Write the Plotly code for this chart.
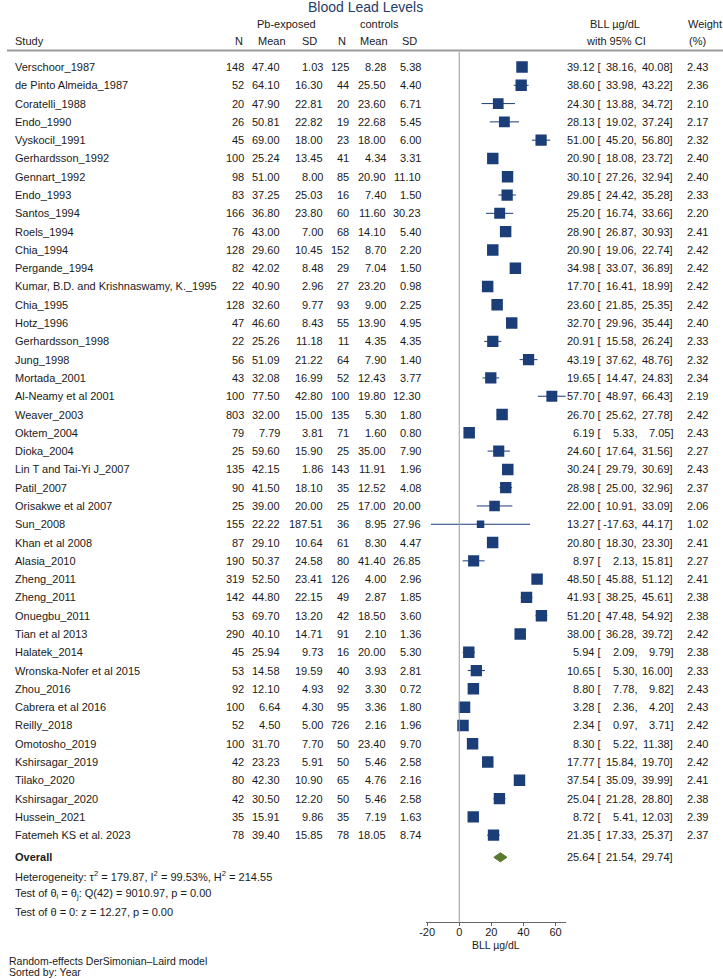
import plotly.graph_objects as go

studies = ["Verschoor_1987", "de Pinto Almeida_1987", "Coratelli_1988", "Endo_1990", "Vyskocil_1991",
           "Gerhardsson_1992", "Gennart_1992", "Endo_1993", "Santos_1994", "Roels_1994", "Chia_1994",
           "Pergande_1994", "Kumar, B.D. and Krishnaswamy, K._1995", "Chia_1995", "Hotz_1996",
           "Gerhardsson_1998", "Jung_1998", "Mortada_2001", "Al-Neamy et al 2001", "Weaver_2003",
           "Oktem_2004", "Dioka_2004", "Lin T and Tai-Yi J_2007", "Patil_2007", "Orisakwe et al 2007",
           "Sun_2008", "Khan et al 2008", "Alasia_2010", "Zheng_2011", "Zheng_2011", "Onuegbu_2011",
           "Tian et al 2013", "Halatek_2014", "Wronska-Nofer et al 2015", "Zhou_2016", "Cabrera et al 2016",
           "Reilly_2018", "Omotosho_2019", "Kshirsagar_2019", "Tilako_2020", "Kshirsagar_2020",
           "Hussein_2021", "Fatemeh KS et al. 2023"]
n1 = [148, 52, 20, 26, 45, 100, 98, 83, 166, 76, 128, 82, 22, 128, 47, 22, 56, 43, 100, 803, 79, 25,
      135, 90, 25, 155, 87, 190, 319, 142, 53, 290, 45, 53, 92, 100, 52, 100, 42, 80, 42, 35, 78]
mean1 = [47.40, 64.10, 47.90, 50.81, 69.00, 25.24, 51.00, 37.25, 36.80, 43.00, 29.60, 42.02, 40.90,
         32.60, 46.60, 25.26, 51.09, 32.08, 77.50, 32.00, 7.79, 59.60, 42.15, 41.50, 39.00, 22.22,
         29.10, 50.37, 52.50, 44.80, 69.70, 40.10, 25.94, 14.58, 12.10, 6.64, 4.50, 31.70, 23.23,
         42.30, 30.50, 15.91, 39.40]
sd1 = [1.03, 16.30, 22.81, 22.82, 18.00, 13.45, 8.00, 25.03, 23.80, 7.00, 10.45, 8.48, 2.96, 9.77,
       8.43, 11.18, 21.22, 16.99, 42.80, 15.00, 3.81, 15.90, 1.86, 18.10, 20.00, 187.51, 10.64, 24.58,
       23.41, 22.15, 13.20, 14.71, 9.73, 19.59, 4.93, 4.30, 5.00, 7.70, 5.91, 10.90, 12.20, 9.86, 15.85]
n2 = [125, 44, 20, 19, 23, 41, 85, 16, 60, 68, 152, 29, 27, 93, 55, 11, 64, 52, 100, 135, 71, 25,
      143, 35, 25, 36, 61, 80, 126, 49, 42, 91, 16, 40, 92, 95, 726, 50, 50, 65, 50, 35, 78]
mean2 = [8.28, 25.50, 23.60, 22.68, 18.00, 4.34, 20.90, 7.40, 11.60, 14.10, 8.70, 7.04, 23.20, 9.00,
         13.90, 4.35, 7.90, 12.43, 19.80, 5.30, 1.60, 35.00, 11.91, 12.52, 17.00, 8.95, 8.30, 41.40,
         4.00, 2.87, 18.50, 2.10, 20.00, 3.93, 3.30, 3.36, 2.16, 23.40, 5.46, 4.76, 5.46, 7.19, 18.05]
sd2 = [5.38, 4.40, 6.71, 5.45, 6.00, 3.31, 11.10, 1.50, 30.23, 5.40, 2.20, 1.50, 0.98, 2.25, 4.95,
       4.35, 1.40, 3.77, 12.30, 1.80, 0.80, 7.90, 1.96, 4.08, 20.00, 27.96, 4.47, 26.85, 2.96, 1.85,
       3.60, 1.36, 5.30, 2.81, 0.72, 1.80, 1.96, 9.70, 2.58, 2.16, 2.58, 1.63, 8.74]
est = [39.12, 38.60, 24.30, 28.13, 51.00, 20.90, 30.10, 29.85, 25.20, 28.90, 20.90, 34.98, 17.70,
       23.60, 32.70, 20.91, 43.19, 19.65, 57.70, 26.70, 6.19, 24.60, 30.24, 28.98, 22.00, 13.27,
       20.80, 8.97, 48.50, 41.93, 51.20, 38.00, 5.94, 10.65, 8.80, 3.28, 2.34, 8.30, 17.77, 37.54,
       25.04, 8.72, 21.35]
ci_lo = [38.16, 33.98, 13.88, 19.02, 45.20, 18.08, 27.26, 24.42, 16.74, 26.87, 19.06, 33.07, 16.41,
         21.85, 29.96, 15.58, 37.62, 14.47, 48.97, 25.62, 5.33, 17.64, 29.79, 25.00, 10.91, -17.63,
         18.30, 2.13, 45.88, 38.25, 47.48, 36.28, 2.09, 5.30, 7.78, 2.36, 0.97, 5.22, 15.84, 35.09,
         21.28, 5.41, 17.33]
ci_hi = [40.08, 43.22, 34.72, 37.24, 56.80, 23.72, 32.94, 35.28, 33.66, 30.93, 22.74, 36.89, 18.99,
         25.35, 35.44, 26.24, 48.76, 24.83, 66.43, 27.78, 7.05, 31.56, 30.69, 32.96, 33.09, 44.17,
         23.30, 15.81, 51.12, 45.61, 54.92, 39.72, 9.79, 16.00, 9.82, 4.20, 3.71, 11.38, 19.70, 39.99,
         28.80, 12.03, 25.37]
weight = [2.43, 2.36, 2.10, 2.17, 2.32, 2.40, 2.40, 2.33, 2.20, 2.41, 2.42, 2.42, 2.42, 2.42, 2.40,
          2.33, 2.32, 2.34, 2.19, 2.42, 2.43, 2.27, 2.43, 2.37, 2.06, 1.02, 2.41, 2.27, 2.41, 2.38,
          2.38, 2.42, 2.38, 2.33, 2.43, 2.43, 2.42, 2.40, 2.42, 2.41, 2.38, 2.39, 2.37]
overall_est, overall_lo, overall_hi = 25.64, 21.54, 29.74
x_ticks = [-20, 0, 20, 40, 60]
stats_lines = [
    "Heterogeneity: τ<sup>2</sup> = 179.87, I<sup>2</sup> = 99.53%, H<sup>2</sup> = 214.55",
    "Test of θ<sub>i</sub> = θ<sub>j</sub>: Q(42) = 9010.97, p = 0.00",
    "Test of θ = 0: z = 12.27, p = 0.00",
]
footnotes = ["Random-effects DerSimonian–Laird model", "Sorted by: Year"]

# ---------------- layout helpers ----------------
W, H = 723, 979
FONT = "Liberation Sans, Arial, sans-serif"
TXT = "#1a1a1a"
NAVY = "#1b3d78"
GREEN = "#587a2e"
ROW0_PX, ROW_STEP = 67.0, 18.29
Y_TOP_PX, Y_BOT_PX = 52.0, 922.3
X_LEFT_PX, X_RIGHT_PX = 423.3, 564.3


def px(p):
    return p / W


def py(p):
    return 1 - p / H


def row_of_px(p):
    return 1 + (p - ROW0_PX) / ROW_STEP


rows = list(range(1, len(studies) + 1))
overall_row = row_of_px(857.3)

fig = go.Figure()

# CI lines
cx, cy = [], []
for r, a, b in zip(rows, ci_lo, ci_hi):
    cx += [a, b, None]
    cy += [r, r, None]
fig.add_trace(go.Scatter(x=cx, y=cy, mode="lines", line=dict(color=NAVY, width=1),
                         hoverinfo="skip", showlegend=False))

# squares, area proportional to weight
sizes = [11.5 * (w / max(weight)) ** 0.5 for w in weight]
fig.add_trace(go.Scatter(x=est, y=rows, mode="markers",
                         marker=dict(symbol="square", size=sizes, color=NAVY, opacity=1,
                                     line=dict(width=0)),
                         showlegend=False))

# overall diamond
dh = 0.25
fig.add_trace(go.Scatter(x=[overall_lo, overall_est, overall_hi, overall_est, overall_lo],
                         y=[overall_row, overall_row - dh, overall_row, overall_row + dh, overall_row],
                         mode="lines", fill="toself", fillcolor=GREEN,
                         line=dict(color=GREEN, width=1), showlegend=False))

ann = []


def add(text, x, y, anchor="right", yref="y", size=11, color=TXT, **kw):
    ann.append(dict(text=text, x=x, y=y, xref="paper", yref=yref, xanchor=anchor,
                    yanchor="middle", showarrow=False, borderpad=0,
                    font=dict(family=FONT, size=size, color=color), **kw))


# table rows
for i, r in enumerate(rows):
    add(studies[i], px(6.7), r, anchor="left")
    add(f"{n1[i]}", px(240.7), r)
    add(f"{mean1[i]:.2f}", px(276.7), r)
    add(f"{sd1[i]:.2f}", px(320), r)
    add(f"{n2[i]}", px(346.7), r)
    add(f"{mean2[i]:.2f}", px(383.3), r)
    add(f"{sd2[i]:.2f}", px(419), r)
    add(f"{est[i]:.2f} [", px(601), r)
    add(f"{ci_lo[i]:.2f},", px(637), r)
    add(f"{ci_hi[i]:.2f}]", px(674), r)
    add(f"{weight[i]:.2f}", px(708.5), r)

# overall row
add("<b>Overall</b>", px(6.7), overall_row, anchor="left")
add(f"{overall_est:.2f} [", px(601), overall_row)
add(f"{overall_lo:.2f},", px(637), overall_row)
add(f"{overall_hi:.2f}]", px(674), overall_row)

for k, s in enumerate(stats_lines):
    add(s, px(6.7), py(876 + 18.2 * k), anchor="left", yref="paper")

add(footnotes[0], px(1.5), py(961), anchor="left", yref="paper", size=10.5)
add(footnotes[1], px(1.5), py(971.5), anchor="left", yref="paper", size=10.5)

# headers
add("Blood Lead Levels", 0.5, py(7.5), anchor="center", yref="paper", size=14, color="#1f3d6b")
add("Pb-exposed", px(282), py(24), anchor="center", yref="paper")
add("controls", px(376), py(24), anchor="center", yref="paper")
add("BLL µg/dL", px(614), py(24), anchor="center", yref="paper")
add("Weight", px(705), py(24), anchor="center", yref="paper")
add("Study", px(6.7), py(41), anchor="left", yref="paper")
for t, c in [("N", 234), ("Mean", 268), ("SD", 305), ("N", 338.5), ("Mean", 371), ("SD", 406)]:
    add(t, px(c), py(41), anchor="center", yref="paper")
add("with 95% CI", px(615), py(41), anchor="center", yref="paper")
add("(%)", px(697), py(41), anchor="center", yref="paper")

# axis title
add("BLL µg/dL", px((X_LEFT_PX + X_RIGHT_PX) / 2), py(944.5), anchor="center", yref="paper", size=10.5)

shapes = [
    dict(type="line", xref="paper", yref="paper", x0=0, x1=1, y0=py(50.5), y1=py(50.5),
         line=dict(color="#9a9a9a", width=2)),
    dict(type="line", xref="x", yref="paper", x0=0, x1=0, y0=py(Y_BOT_PX), y1=py(Y_TOP_PX),
         line=dict(color="#9a9a9a", width=1)),
]

fig.update_layout(
    width=W, height=H, margin=dict(l=0, r=0, t=0, b=0),
    paper_bgcolor="white", plot_bgcolor="white",
    annotations=ann, shapes=shapes, showlegend=False,
    xaxis=dict(domain=[px(X_LEFT_PX), px(X_RIGHT_PX)], range=[-20.6, 66.43],
               tickvals=x_ticks, ticktext=[str(t) for t in x_ticks],
               ticks="outside", ticklen=3, tickcolor="#666", tickwidth=1,
               ticklabelstandoff=-4,
               showline=True, linecolor="#666", linewidth=1, showgrid=False, zeroline=False,
               tickfont=dict(family=FONT, size=11, color=TXT), fixedrange=True),
    yaxis=dict(domain=[py(Y_BOT_PX), py(Y_TOP_PX)],
               range=[row_of_px(Y_BOT_PX), row_of_px(Y_TOP_PX)],
               visible=False, fixedrange=True),
)

fig.write_html("out.html", config={"displayModeBar": False},
               post_script="document.body.style.margin='0';document.body.style.overflow='hidden';")
